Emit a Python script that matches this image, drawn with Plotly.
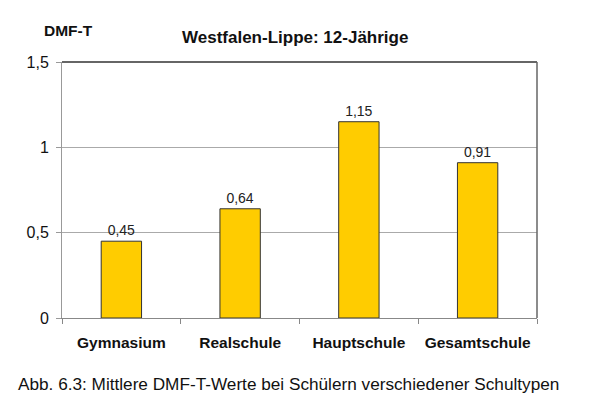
import plotly.graph_objects as go

categories = ["Gymnasium", "Realschule", "Hauptschule", "Gesamtschule"]
values = [0.45, 0.64, 1.15, 0.91]
y_ticks = [0, 0.5, 1, 1.5]
y_ticklabels = ["0", "0,5", "1", "1,5"]

FONT = "Liberation Sans, Arial"

fig = go.Figure()
fig.add_trace(go.Bar(
    x=categories, y=values,
    marker=dict(color="#FFCC00", line=dict(color="#333333", width=1)),
    width=0.34,
    text=[f"{v:.2f}".replace(".", ",") for v in values],
    textposition="outside",
    textfont=dict(family=FONT, size=14, color="#222222"),
    cliponaxis=False,
    hoverinfo="skip",
))

fig.update_layout(
    width=600, height=411,
    margin=dict(l=62, r=63, t=62, b=93),
    paper_bgcolor="white", plot_bgcolor="white",
    showlegend=False,
    bargap=0.66,
    font=dict(family=FONT, color="#111111"),
    xaxis=dict(
        showline=True, linecolor="#888888", linewidth=1,
        ticks="outside", ticklen=5, tickcolor="#888888",
        tickson="boundaries",
        ticklabelstandoff=10,
        tickfont=dict(size=15.5, family=FONT, color="#111111"),
        tickprefix="<b>", ticksuffix="</b>",
    ),
    yaxis=dict(
        range=[0, 1.5], tickvals=y_ticks, ticktext=y_ticklabels,
        showline=True, linecolor="#999999", linewidth=1,
        ticks="outside", ticklen=5, tickcolor="#999999",
        ticklabelstandoff=4,
        gridcolor="#AAAAAA", gridwidth=1,
        tickfont=dict(size=16, family=FONT, color="#111111"),
        zeroline=False,
    ),
    shapes=[
        dict(type="line", xref="paper", yref="paper", x0=0, x1=1, y0=1, y1=1,
             line=dict(color="#666666", width=2)),
        dict(type="line", xref="paper", yref="paper", x0=1, x1=1, y0=0, y1=1,
             line=dict(color="#666666", width=1.5)),
    ],
    annotations=[
        dict(text="<b>Westfalen-Lippe: 12-Jährige</b>", xref="paper", yref="paper",
             x=0.49, y=1.0, yshift=13, yanchor="bottom", showarrow=False,
             font=dict(size=17, family=FONT, color="#111111")),
        dict(text="<b>DMF-T</b>", xref="paper", yref="paper",
             x=0, xshift=-20, y=1.0, yshift=21, xanchor="left", yanchor="bottom", showarrow=False,
             font=dict(size=15.5, family=FONT, color="#111111")),
        dict(text="Abb. 6.3: Mittlere DMF-T-Werte bei Schülern verschiedener Schultypen",
             xref="paper", yref="paper", x=0, xshift=-46, y=0, yshift=-78,
             xanchor="left", yanchor="bottom", showarrow=False,
             font=dict(size=17.2, family=FONT, color="#111111")),
    ],
)

fig.write_html("out.html", config={"displayModeBar": False},
               post_script="document.body.style.margin='0';")
